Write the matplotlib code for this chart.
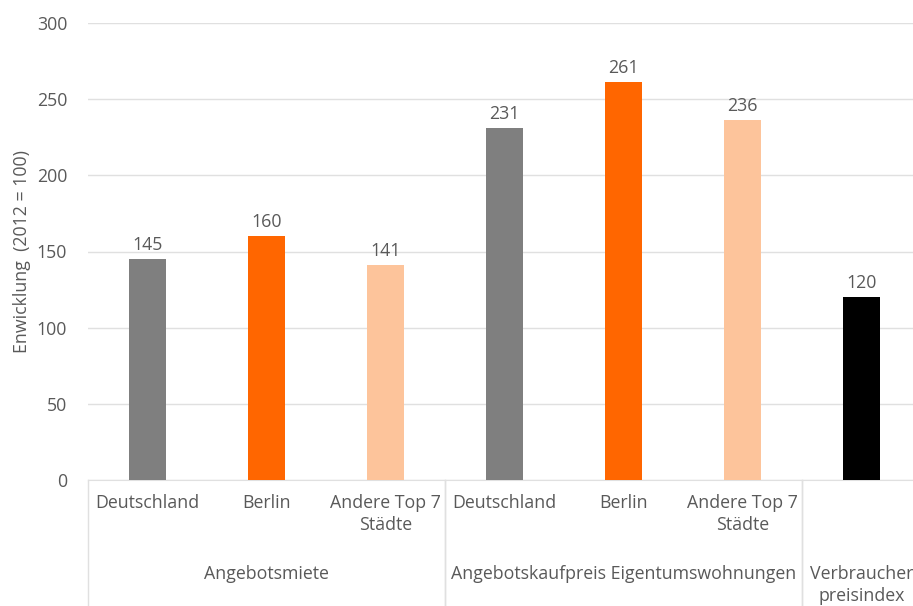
import matplotlib.pyplot as plt
import matplotlib.transforms as mtransforms

# --- Daten ---
kategorien = ["Deutschland", "Berlin", "Andere Top 7\nStädte",
              "Deutschland", "Berlin", "Andere Top 7\nStädte", ""]
werte = [145, 160, 141, 231, 261, 236, 120]
farben = ["#7f7f7f", "#ff6600", "#fdc49b", "#7f7f7f", "#ff6600", "#fdc49b", "#000000"]
gruppen = ["Angebotsmiete", "Angebotskaufpreis Eigentumswohnungen", "Verbraucher\npreisindex"]
gruppen_spannen = [(0, 2), (3, 5), (6, 6)]
y_ticks = [0, 50, 100, 150, 200, 250, 300]

TEXT = "#595959"
GRID = "#e0e0e0"
FS = 12.8

plt.rcParams["font.family"] = ["Open Sans", "DejaVu Sans"]

W, H = 913, 606
fig = plt.figure(figsize=(W / 100, H / 100), dpi=100)
# Achse ragt rechts etwas über den Bildrand hinaus (wie im Original beschnitten)
left, right, top, bottom = 88, 921, 23, 480
ax = fig.add_axes([left / W, 1 - bottom / H, (right - left) / W, (bottom - top) / H])

x = list(range(len(werte)))
ax.bar(x, werte, width=0.31, color=farben, zorder=3)

for xi, v in zip(x, werte):
    ax.annotate(str(v), (xi, v), xytext=(0, 4), textcoords="offset points",
                ha="center", va="bottom", fontsize=FS, color=TEXT)

ax.set_xlim(-0.5, len(werte) - 0.5)
ax.set_ylim(0, 300)
ax.set_yticks(y_ticks)
ax.yaxis.grid(True, color=GRID, linewidth=1)
ax.set_axisbelow(True)
ax.tick_params(axis="y", length=0, labelsize=FS, labelcolor=TEXT, pad=15)
ax.set_xticks([])
for s in ["top", "right", "left"]:
    ax.spines[s].set_visible(False)
ax.spines["bottom"].set_color(GRID)

ax.set_ylabel("Enwicklung  (2012 = 100)", fontsize=FS, color=TEXT, labelpad=4)

# --- Hierarchische Kategorienachse ---
trans = mtransforms.blended_transform_factory(ax.transData, fig.transFigure)
y_kat = 1 - 494 / H
for xi, k in zip(x, kategorien):
    ax.text(xi, y_kat, k, transform=trans, ha="center", va="top",
            fontsize=FS, color=TEXT, linespacing=1.3, clip_on=False)

y_grp = 1 - 565 / H
for (a, b), g in zip(gruppen_spannen, gruppen):
    ax.text((a + b) / 2, y_grp, g, transform=trans, ha="center", va="top",
            fontsize=FS, color=TEXT, linespacing=1.3, clip_on=False)
    for xb in (a - 0.5, b + 0.5):
        ax.plot([xb, xb], [1 - bottom / H, 0], transform=trans, color=GRID,
                linewidth=1, clip_on=False)

fig.savefig("out.png", dpi=100)
